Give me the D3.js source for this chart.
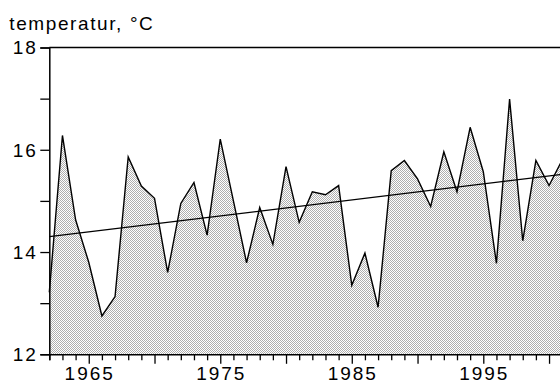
<!DOCTYPE html>
<html><head><meta charset="utf-8">
<script src="https://cdn.jsdelivr.net/npm/d3@7/dist/d3.min.js"></script>
<style>
html,body{margin:0;padding:0;background:#fff;}
svg{display:block;}
text{font-family:"Liberation Sans",Arial,Helvetica,sans-serif;fill:#000;}
</style></head>
<body>
<svg id="c" width="560" height="383"></svg>
<script>
const years = d3.range(1962, 2002);
const temps = [13.21,16.28,14.63,13.80,12.75,13.13,15.86,15.29,15.05,13.60,
               14.95,15.36,14.33,16.21,15.00,13.79,14.87,14.15,15.67,14.58,
               15.18,15.12,15.30,13.35,13.98,12.92,15.59,15.79,15.43,14.89,
               15.96,15.18,16.44,15.57,13.78,16.99,14.22,15.79,15.30,15.80];
const trendYears = [1962, 2001];
const trendVals = [14.30, 15.52];
const yTickVals = [12,13,14,15,16,17,18];
const yLabels = [12,14,16,18];
const xLabels = [1965,1975,1985,1995];
const title = "temperatur, °C";

const svg = d3.select("#c");
const x = d3.scaleLinear().domain([1962, 2001]).range([49.3, 562.2]);
const y = d3.scaleLinear().domain([12, 18]).range([354.3, 47.5]);

const defs = svg.append("defs");
const pat = defs.append("pattern").attr("id","dots").attr("patternUnits","userSpaceOnUse")
  .attr("width",2).attr("height",2);
pat.append("rect").attr("width",2).attr("height",2).attr("fill","#fff");
pat.append("rect").attr("x",0).attr("y",0).attr("width",1).attr("height",1).attr("fill","#aeaeae");
pat.append("rect").attr("x",1).attr("y",1).attr("width",1).attr("height",1).attr("fill","#aeaeae");

const data = years.map((yr,i)=>({yr, v:temps[i]}));

svg.append("path").datum(data)
  .attr("d", d3.area().x(d=>x(d.yr)).y0(y(12)).y1(d=>y(d.v)))
  .attr("fill","url(#dots)");

svg.append("path").datum(data)
  .attr("d", d3.line().x(d=>x(d.yr)).y(d=>y(d.v)))
  .attr("fill","none").attr("stroke","#000").attr("stroke-width",1.4).attr("stroke-linejoin","miter");

svg.append("path").datum(trendYears.map((t,i)=>({t, v:trendVals[i]})))
  .attr("d", d3.line().x(d=>x(d.t)).y(d=>y(d.v)))
  .attr("fill","none").attr("stroke","#000").attr("stroke-width",1.3);

// top frame
svg.append("line").attr("x1",x(1962)).attr("x2",x(2001)).attr("y1",y(18)).attr("y2",y(18))
  .attr("stroke","#000").attr("stroke-width",1.5);

// x axis
const xa = svg.append("g").attr("transform",`translate(0,${y(12)})`)
  .call(d3.axisBottom(x).tickValues(years).tickFormat("").tickSizeOuter(0).tickSize(6));
xa.select(".domain").attr("stroke-width",1.5);
xa.selectAll(".tick line").attr("stroke-width",1.3)
  .attr("y2", d => d % 5 === 0 ? 9.5 : 6);

xa.selectAll(".xl").data(xLabels).enter().append("text")
  .attr("x", d=>x(d)+1).attr("y",26).attr("text-anchor","middle")
  .attr("font-size","19px").attr("letter-spacing","2px").text(d=>d);

// y axis
const ya = svg.append("g").attr("transform",`translate(${x(1962)},0)`)
  .call(d3.axisLeft(y).tickValues(yTickVals).tickFormat("").tickSizeOuter(0).tickSize(9));
ya.select(".domain").attr("stroke-width",1.5);
ya.selectAll(".tick line").attr("stroke-width",1.3);

svg.selectAll(".yl").data(yLabels).enter().append("text")
  .attr("x", 37.5).attr("y", d=>y(d)+6.8).attr("text-anchor","end")
  .attr("font-size","19px").attr("letter-spacing","1.8px").text(d=>d);

svg.append("text").attr("x",9.3).attr("y",30).attr("font-size","19px")
  .attr("letter-spacing","1.6px").text(title);
</script>
</body></html>
